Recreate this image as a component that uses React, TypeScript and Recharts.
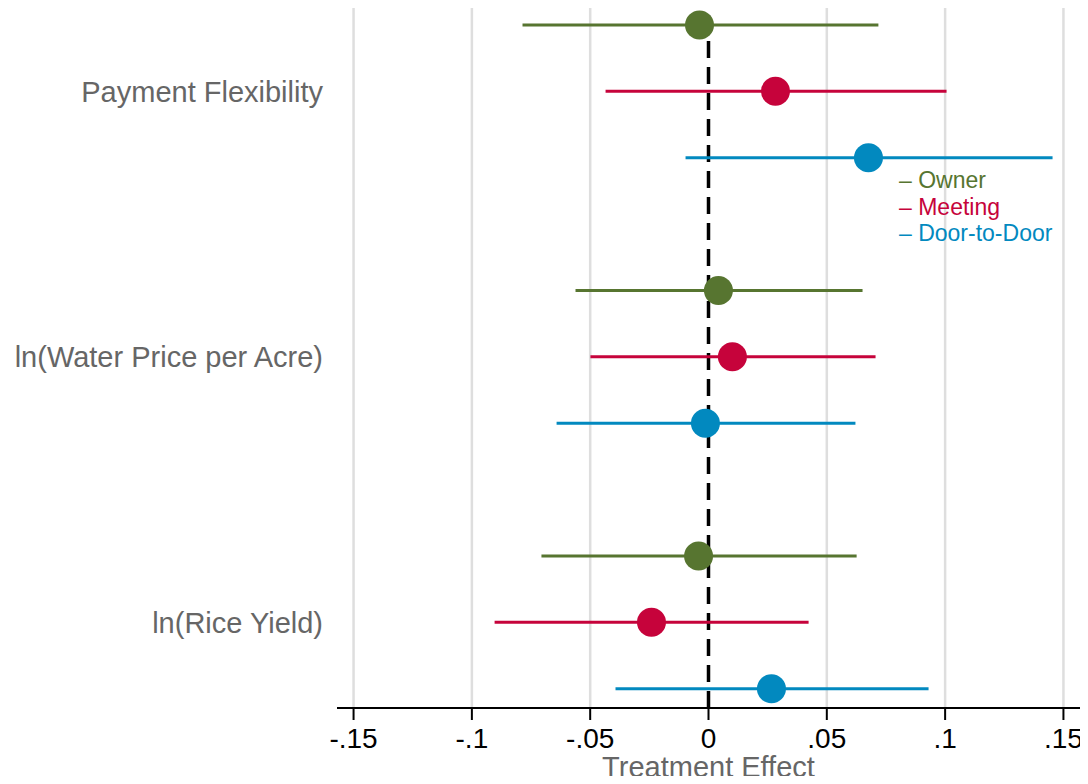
import { ScatterChart, Scatter, XAxis, YAxis, ReferenceLine, ErrorBar } from 'recharts';

const outcomes = ['Payment Flexibility', 'ln(Water Price per Acre)', 'ln(Rice Yield)'];
const treatments = ['Owner', 'Meeting', 'Door-to-Door'];
const colors = ['#577530', '#c6033b', '#0289bf'];

// point estimates and 95% CI bounds, one entry per outcome
const ownerEst = [-0.0038, 0.0042, -0.0042];
const ownerLo = [-0.0786, -0.0562, -0.0706];
const ownerHi = [0.0718, 0.0651, 0.0626];

const meetingEst = [0.0283, 0.0101, -0.0241];
const meetingLo = [-0.0435, -0.0499, -0.0904];
const meetingHi = [0.1006, 0.0706, 0.0423];

const doorEst = [0.0676, -0.0013, 0.0266];
const doorLo = [-0.0097, -0.0642, -0.0393];
const doorHi = [0.1454, 0.0621, 0.093];

const xTicks = [-0.15, -0.1, -0.05, 0, 0.05, 0.1, 0.15];

const series = [
  { est: ownerEst, lo: ownerLo, hi: ownerHi },
  { est: meetingEst, lo: meetingLo, hi: meetingHi },
  { est: doorEst, lo: doorLo, hi: doorHi },
];

// row position: 4 slots per outcome, 3 used
const seriesData = series.map((s, g) =>
  outcomes.map((_, o) => ({
    x: s.est[o],
    y: o * 4 + g,
    err: [s.est[o] - s.lo[o], s.hi[o] - s.est[o]],
  }))
);

const fmtX = (v: number) => {
  if (v === 0) return '0';
  const s = String(Math.abs(v)).replace(/^0/, '');
  return v < 0 ? '-' + s : s;
};

const fmtY = (v: number) => outcomes[Math.round((v - 1) / 4)] ?? '';

const font = '"Liberation Sans", Arial, Helvetica, sans-serif';

export default function App() {
  return (
    <div style={{ margin: -8, background: '#fff', width: 1088, height: 784, position: 'relative' }}>
      <ScatterChart width={1088} height={784} margin={{ top: 7, right: 8, left: 0, bottom: 0 }} style={{ fontFamily: font }}>
        <XAxis
          type="number"
          dataKey="x"
          domain={[-0.157, 0.157]}
          ticks={xTicks}
          tickFormatter={fmtX}
          allowDataOverflow
          height={76}
          tickSize={12}
          tickMargin={8}
          stroke="#000"
          strokeWidth={2}
          tick={{ fill: '#000', fontSize: 28 }}
          label={{ value: 'Treatment Effect', position: 'insideBottom', offset: 7, fill: '#666', fontSize: 29 }}
        />
        <YAxis
          type="number"
          dataKey="y"
          domain={[-0.27, 10.29]}
          reversed
          ticks={[1, 5, 9]}
          tickFormatter={fmtY}
          allowDataOverflow
          width={337}
          axisLine={false}
          tickLine={false}
          tickSize={0}
          tickMargin={14}
          tick={{ fill: '#666', fontSize: 29 }}
        />
        {xTicks.filter(t => t !== 0).map(t => (
          <ReferenceLine key={t} x={t} stroke="#dedede" strokeWidth={2.5} />
        ))}
        <ReferenceLine x={0} stroke="#000" strokeWidth={3.5} strokeDasharray="17 9" />
        {seriesData.map((d, i) => (
          <Scatter key={treatments[i]} name={treatments[i]} data={d} fill={colors[i]} isAnimationActive={false}
            shape={(p: any) => <circle cx={p.cx} cy={p.cy} r={14.5} fill={colors[i]} />}>
            <ErrorBar dataKey="err" direction="x" width={0} stroke={colors[i]} strokeWidth={3} />
          </Scatter>
        ))}
      </ScatterChart>
      <div style={{ position: 'absolute', left: 899, top: 167, fontFamily: font, fontSize: 23, lineHeight: '26.5px' }}>
        {treatments.map((t, i) => (
          <div key={t} style={{ color: colors[i], whiteSpace: 'nowrap' }}>
            {'– ' + t}
          </div>
        ))}
      </div>
    </div>
  );
}
